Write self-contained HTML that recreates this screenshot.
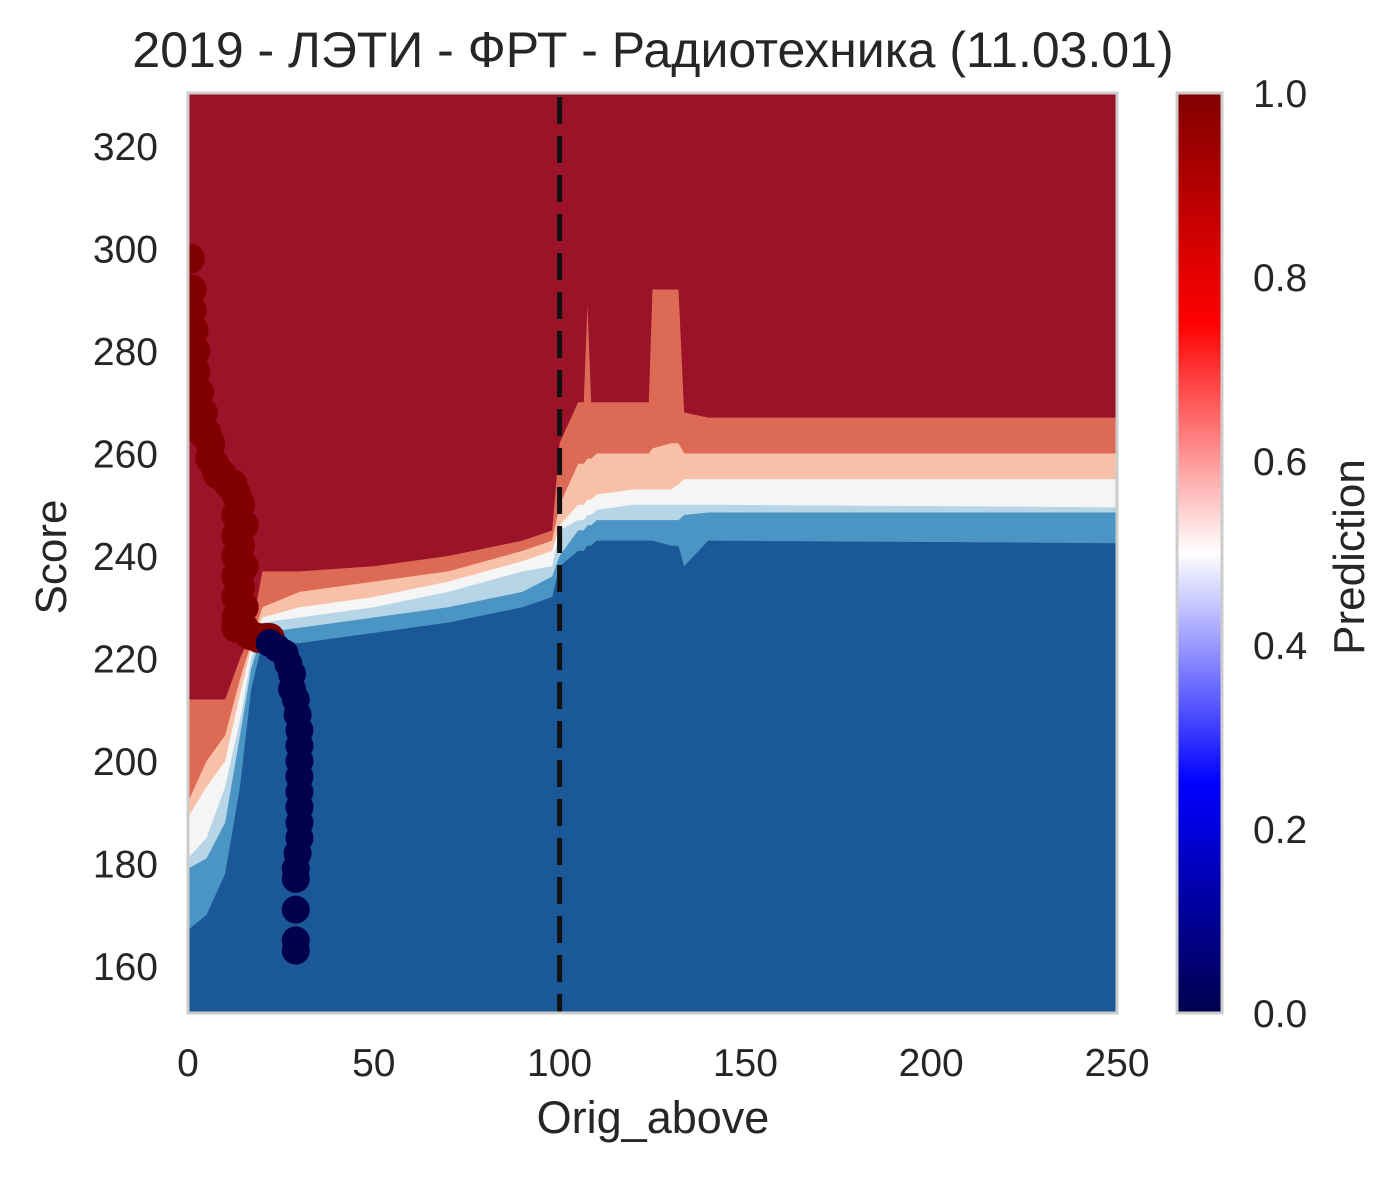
<!DOCTYPE html>
<html><head><meta charset="utf-8"><style>
body{margin:0;background:#fff}
svg text{font-family:"Liberation Sans","DejaVu Sans",sans-serif;fill:#262626}
</style></head><body>
<svg id="c" width="1399" height="1173" xmlns="http://www.w3.org/2000/svg">
<defs><linearGradient id="seis" x1="0" y1="1" x2="0" y2="0">
<stop offset="0" stop-color="#00004c"/><stop offset="0.25" stop-color="#0000ff"/><stop offset="0.5" stop-color="#ffffff"/><stop offset="0.75" stop-color="#ff0000"/><stop offset="1" stop-color="#800000"/></linearGradient>
<clipPath id="pc"><rect x="188" y="93" width="929" height="920"/></clipPath></defs>
<text x="653" y="67" font-size="50" text-anchor="middle">2019 - ЛЭТИ - ФРТ - Радиотехника (11.03.01)</text>
<g id="plot" clip-path="url(#pc)"></g>
<rect x="188" y="93" width="929" height="920" fill="none" stroke="#cccccc" stroke-width="3"/>
<g id="axes"></g>
<rect x="1177" y="93" width="45" height="920" fill="url(#seis)" stroke="#cccccc" stroke-width="3"/>
<text transform="translate(1364,557) rotate(-90)" font-size="44" text-anchor="middle">Prediction</text>
<text x="653" y="1133" font-size="45" text-anchor="middle">Orig_above</text>
<text transform="translate(66,557) rotate(-90)" font-size="44" text-anchor="middle">Score</text>
</svg>
<script>
const bx=[0,5,10,14,17,20,30,50,70,90,98,100,105,106.5,107.5,108.5,110,120,124,125,130,132,133.5,140,250];
const b1=[212,212,212,220,225,237,237,238,240,243,245,262,270,270,289,270,270,270,270,292,292,292,268,267,267];
const b2=[192,200,205,216,223,230,233,235,237,241,243,250,258,258,259,259,260,260,260,261,262,262,260,260,260];
const b3=[189,195,200,213,222,228,230,232,235,239,241,246,250,250,251,251,252,253,253,253,253,254,255,255,255];
const b4=[181,185,195,208,220,227,228,230,233,237,238,245,247,247,248,248,249,250,250,250,250,250,250,250,249.5];
const b5=[179,181,188,205,218,225,226,228,230,233,236,240,245,245,246,246,247,247,247,247,247,247,248,248.5,248.5];
const b6=[167,170,178,195,214,223,223,225,227,230,232,238,241,241,242,242,243,243,243,243,242,242,238,243,242.5];
const bandColors=["#9b1329","#dc6a55","#f8c0a6","#f5f5f5","#b6d5e7","#4b95c5","#1b5898"];
const redX=[0.5,1,1,1.5,2,2,3,3,4,4,5,6,6,7,8,9,10,11,12,13,13,13,13,13,13,13,13,14,14,14,15,15,15,15,16,17,19,21,22];
const redY=[298,292,288,284,280,276,272,268,268,264,264,262,259,258,256,256,255,254,254,252,248,244,240,236,232,228,226,250,242,234,246,238,230,226,225,224.5,224,224,224];
const navyX=[22,24,26,27,28,28,29,29.5,30,30,30,30,30,30,30,30,29.5,29,29,29,29,29];
const navyY=[223,222,221,219,217,214,212,209,206,203,200,197,194,191,188,185,182,179,177,171,165,163];
const xTicks=[0,50,100,150,200,250];
const yTicks=[160,180,200,220,240,260,280,300,320];
const cbTicks=[0,0.2,0.4,0.6,0.8,1.0];
const NS="http://www.w3.org/2000/svg";
const X=v=>188+v/250*929, Y=v=>966-(v-160)*5.125;
const plot=document.getElementById('plot'), axes=document.getElementById('axes');
function mk(p,tag,at){const e=document.createElementNS(NS,tag);for(const k in at)e.setAttribute(k,at[k]);p.appendChild(e);return e;}
let r=mk(plot,'rect',{x:188,y:93,width:929,height:920,fill:bandColors[0]});


[b1,b2,b3,b4,b5,b6].forEach((b,i)=>{
  let pts=bx.map((x,j)=>X(x)+','+Y(b[j])).join(' ');
  pts+=' '+X(250)+',1013 '+X(0)+',1013';
  const p=mk(plot,'polygon',{points:pts,fill:bandColors[i+1]});
  
  
});
const dl=mk(plot,'line',{x1:X(100),x2:X(100),y1:97,y2:1013,stroke:'#111',"stroke-width":5,"stroke-dasharray":"27,12"});


redX.forEach((x,i)=>{const c=mk(plot,'circle',{cx:X(x),cy:Y(redY[i]),r:15,fill:'#800000'});

});
navyX.forEach((x,i)=>{const c=mk(plot,'circle',{cx:X(x),cy:Y(navyY[i]),r:14,fill:'#00004c'});

});
xTicks.forEach(t=>{const e=mk(axes,'text',{x:X(t),y:1076,"font-size":39,"text-anchor":"middle"});e.textContent=t;

});
yTicks.forEach(t=>{const e=mk(axes,'text',{x:158,y:Y(t)+14,"font-size":39,"text-anchor":"end"});e.textContent=t;

});
cbTicks.forEach(t=>{const e=mk(axes,'text',{x:1253,y:1013-t*920+14,"font-size":39});e.textContent=t.toFixed(1);

});
</script>
</body></html>
